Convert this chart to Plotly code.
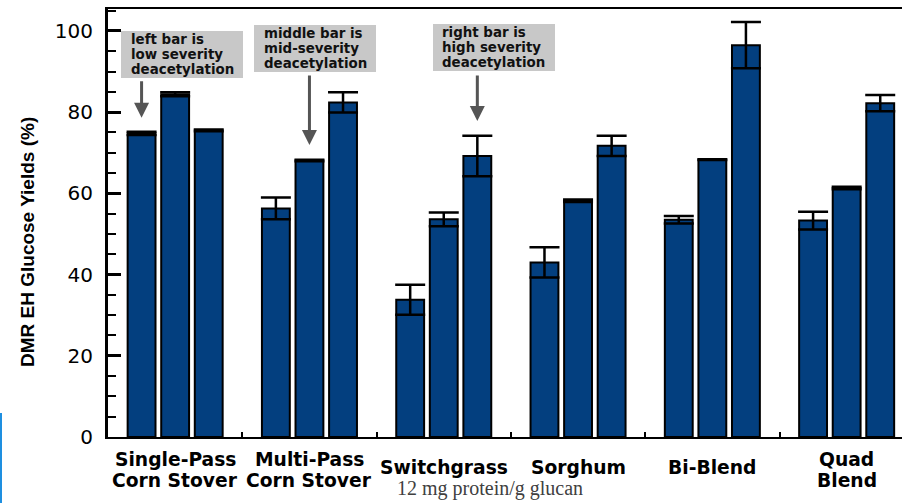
import plotly.graph_objects as go

# Feedstocks (group labels, <br> separates the two label lines)
feedstocks = [
    "Single-Pass<br>Corn Stover",
    "Multi-Pass<br>Corn Stover",
    "Switchgrass",
    "Sorghum",
    "Bi-Blend",
    "Quad<br>Blend",
]

# DMR EH glucose yields (%) for each deacetylation severity
low_severity = [74.8, 56.3, 33.8, 43.0, 53.5, 53.3]
low_err = [0.4, 2.7, 3.7, 3.7, 0.9, 2.2]

mid_severity = [84.4, 68.1, 53.6, 58.2, 68.3, 61.3]
mid_err = [0.5, 0.2, 1.7, 0.3, 0.1, 0.3]

high_severity = [75.5, 82.4, 69.2, 71.7, 96.5, 82.2]
high_err = [0.2, 2.5, 5.0, 2.5, 5.7, 2.0]

y_ticks = [0, 20, 40, 60, 80, 100]

note_texts = [
    "left bar is<br>low severity<br>deacetylation",
    "middle bar is<br>mid-severity<br>deacetylation",
    "right bar is<br>high severity<br>deacetylation",
]

subtitle = "12 mg protein/g glucan"
y_title = "DMR EH Glucose Yields (%)"

BAR_COLOR = "#033f7f"
W, H = 902, 503
L, R, T, B = 108, 0, 9, 66
plot_w = W - L - R
plot_h = H - T - B
group_px = 134.3
x_lo = -0.5
x_hi = x_lo + plot_w / group_px
y_hi = 105.4


def px_x(p):
    return (p - L) / plot_w


def px_y(p):
    return (H - B - p) / plot_h


fig = go.Figure()
xs = list(range(len(feedstocks)))
for vals, errs, name in [
    (low_severity, low_err, "low"),
    (mid_severity, mid_err, "mid"),
    (high_severity, high_err, "high"),
]:
    fig.add_trace(
        go.Bar(
            x=xs,
            y=vals,
            name=name,
            marker=dict(color=BAR_COLOR, line=dict(color="black", width=2)),
            error_y=dict(
                type="data",
                array=errs,
                visible=True,
                color="black",
                thickness=2.5,
                width=15,
            ),
            showlegend=False,
        )
    )

annotations = []
shapes = []

# group labels under the x axis, one annotation per line
for i, lab in enumerate(feedstocks):
    lines = lab.split("<br>")
    if len(lines) == 2:
        ys = [px_y(459.5), px_y(480.5)]
    else:
        ys = [px_y(467.5)]
    for line, yy in zip(lines, ys):
        annotations.append(
            dict(
                x=i,
                y=yy,
                xref="x",
                yref="paper",
                text=line,
                showarrow=False,
                xanchor="center",
                yanchor="middle",
                font=dict(family="DejaVu Sans", size=18.7, color="black", weight="bold"),
            )
        )

# note boxes with arrows pointing at the low / mid / high bars
boxes = [(121, 243, 31, 78), (254, 376, 25, 72), (433, 555, 24, 71)]
text_left = [129, 262, 440]
arrow_x = [0 - 0.25, 1, 2 + 0.25]
arrow_tip = [78.6, 71.9, 77.8]
arrow_len = [38, 71, 47]
for (x0, x1, y0, y1), tx, txt, ax_, tip, ln in zip(
    boxes, text_left, note_texts, arrow_x, arrow_tip, arrow_len
):
    shapes.append(
        dict(
            type="rect",
            xref="paper",
            yref="paper",
            x0=px_x(x0),
            x1=px_x(x1),
            y0=px_y(y1),
            y1=px_y(y0),
            fillcolor="#c8c8c8",
            line=dict(width=0),
            layer="below",
        )
    )
    for k, line in enumerate(txt.split("<br>")):
        annotations.append(
            dict(
                x=px_x(tx),
                y=px_y(y0 + 8.5 + 15 * k),
                xref="paper",
                yref="paper",
                text=line,
                showarrow=False,
                align="left",
                xanchor="left",
                yanchor="middle",
                font=dict(family="DejaVu Sans", size=13.4, color="#111111", weight="bold"),
            )
        )
    annotations.append(
        dict(
            x=ax_,
            y=tip,
            xref="x",
            yref="y",
            text="",
            showarrow=True,
            arrowhead=2,
            arrowsize=1.0,
            arrowwidth=3,
            arrowcolor="#555555",
            ax=0,
            ay=-ln,
            standoff=0,
        )
    )

# y axis title
annotations.append(
    dict(
        x=px_x(27),
        y=px_y(242),
        xref="paper",
        yref="paper",
        text=y_title,
        textangle=-90,
        showarrow=False,
        xanchor="center",
        yanchor="middle",
        font=dict(family="Liberation Sans Narrow, Liberation Sans", size=19, color="black", weight="bold"),
    )
)

# enzyme loading note under the axis
annotations.append(
    dict(
        x=px_x(490),
        y=px_y(489),
        xref="paper",
        yref="paper",
        text=subtitle,
        showarrow=False,
        xanchor="center",
        yanchor="middle",
        font=dict(family="Liberation Serif", size=20, color="#404040"),
    )
)

# thin blue edge line at the lower left
shapes.append(
    dict(
        type="line",
        xref="paper",
        yref="paper",
        x0=px_x(1),
        x1=px_x(1),
        y0=px_y(413),
        y1=px_y(503),
        line=dict(color="#1e8fe0", width=2),
    )
)

fig.update_layout(
    width=W,
    height=H,
    margin=dict(l=L, r=R, t=T, b=B, pad=0),
    paper_bgcolor="white",
    plot_bgcolor="white",
    barmode="group",
    bargap=0.25,
    bargroupgap=0.17,
    annotations=annotations,
    shapes=shapes,
    xaxis=dict(
        range=[x_lo, x_hi],
        showgrid=False,
        zeroline=False,
        showline=True,
        linecolor="black",
        linewidth=2,
        mirror=True,
        ticks="inside",
        tickvals=[i + 0.5 for i in xs[:-1]],
        ticklen=5,
        tickwidth=1.5,
        tickcolor="black",
        showticklabels=False,
    ),
    yaxis=dict(
        range=[0, y_hi],
        showgrid=False,
        zeroline=False,
        showline=True,
        linecolor="black",
        linewidth=3,
        ticks="inside",
        tickvals=y_ticks,
        ticklen=13,
        tickwidth=3,
        tickcolor="black",
        ticklabelstandoff=8,
        tickfont=dict(family="DejaVu Sans", size=20, color="black"),
        minor=dict(ticks="inside", ticklen=8, tickwidth=1.5, tickcolor="black", dtick=5, showgrid=False),
    ),
)

fig.write_html("out.html")
